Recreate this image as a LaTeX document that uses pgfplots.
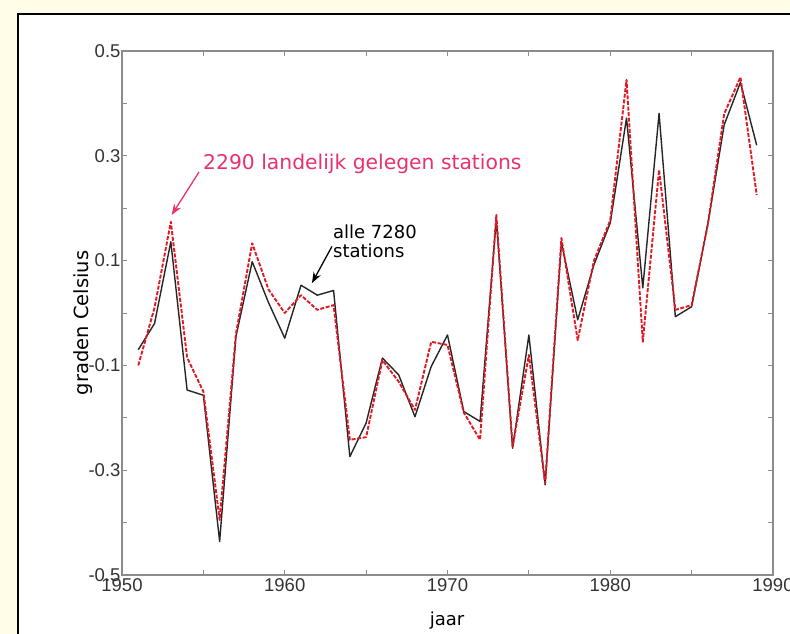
\documentclass[border=0pt]{standalone}
\usepackage{fontspec}
\usepackage{pgfplots}
\pgfplotsset{compat=1.18}
\usetikzlibrary{arrows.meta}
\setmainfont{Liberation Sans}
\newfontfamily\notefont{DejaVu Sans}

\definecolor{pagebg}{RGB}{255,252,232}
\definecolor{axisgray}{RGB}{140,140,140}
\definecolor{ruralred}{RGB}{225,25,35}
\definecolor{notepink}{RGB}{232,50,110}

% yearly temperature anomaly (degrees Celsius)
% all   : all 7280 stations
% rural : 2290 rural stations
\pgfplotstableread{
year   all     rural
1951  -0.070  -0.100
1952  -0.020   0.010
1953   0.136   0.174
1954  -0.147  -0.085
1955  -0.157  -0.150
1956  -0.436  -0.395
1957  -0.045  -0.040
1958   0.098   0.133
1959   0.020   0.045
1960  -0.048   0.000
1961   0.053   0.034
1962   0.034   0.006
1963   0.043   0.015
1964  -0.274  -0.242
1965  -0.210  -0.237
1966  -0.086  -0.090
1967  -0.118  -0.131
1968  -0.198  -0.185
1969  -0.102  -0.055
1970  -0.042  -0.061
1971  -0.188  -0.190
1972  -0.207  -0.242
1973   0.180   0.187
1974  -0.258  -0.255
1975  -0.042  -0.080
1976  -0.328  -0.325
1977   0.135   0.143
1978  -0.013  -0.052
1979   0.092   0.100
1980   0.172   0.177
1981   0.372   0.445
1982   0.048  -0.055
1983   0.381   0.273
1984  -0.007   0.006
1985   0.012   0.015
1986   0.170   0.170
1987   0.359   0.380
1988   0.440   0.450
1989   0.320   0.225
}\anomalies

\begin{document}
\begin{tikzpicture}
\useasboundingbox (0pt,0pt) rectangle (790pt,634pt);
\clip (0pt,0pt) rectangle (790pt,634pt);
\fill[pagebg] (0pt,0pt) rectangle (790pt,634pt);
\filldraw[fill=white,draw=black,line width=1.6pt] (18pt,-20pt) rectangle (820pt,620pt);

\begin{axis}[
  at={(122pt,59pt)}, anchor=south west,
  width=651pt, height=524pt, scale only axis,
  xmin=1950, xmax=1990, ymin=-0.5, ymax=0.5,
  xtick={1950,1960,1970,1980,1990},
  minor xtick={1955,1965,1975,1985},
  ytick={-0.5,-0.3,-0.1,0.1,0.3,0.5},
  minor ytick={-0.4,-0.2,0,0.2,0.4},
  tick align=inside,
  major tick length=5pt, minor tick length=5pt,
  tick style={axisgray, line width=0.9pt},
  axis line style={axisgray, line width=1.1pt},
  tick label style={font=\fontsize{18.5}{21}\selectfont, text=black!80},
  yticklabel style={xshift=2pt},
  /pgf/number format/assume math mode=true,
  /pgf/number format/fixed,
  /pgf/number format/precision=1,
  /pgf/number format/set thousands separator={},
  clip=false,
]
\addplot[black!85, line width=1.4pt, line join=round] table[x=year, y=all] {\anomalies};
\addplot[ruralred, line width=1.9pt, dash pattern=on 4pt off 1.6pt, line join=round] table[x=year, y=rural] {\anomalies};

\node[anchor=base west, inner sep=0, text=notepink, font=\notefont\fontsize{20.3}{24}\selectfont]
  at (axis cs:1954.98,0.273) {2290 landelijk gelegen stations};
\draw[notepink, line width=1.3pt, -{Stealth[length=11pt,width=8pt]}]
  (axis cs:1954.73,0.269) -- (axis cs:1953.05,0.187);

\node[anchor=base west, inner sep=0, font=\notefont\fontsize{18}{22}\selectfont]
  at (axis cs:1962.96,0.143) {alle 7280};
\node[anchor=base west, inner sep=0, font=\notefont\fontsize{18}{22}\selectfont]
  at (axis cs:1962.96,0.105) {stations};
\draw[black, line width=1.3pt, -{Stealth[length=11pt,width=8pt]}]
  (axis cs:1962.9,0.127) -- (axis cs:1961.67,0.057);
\end{axis}

\node[anchor=base, font=\notefont\fontsize{18}{22}\selectfont] at (447pt,8pt) {jaar};
\node[rotate=90, font=\notefont\fontsize{19.5}{22}\selectfont] at (83pt,311pt) {graden Celsius};
\end{tikzpicture}
\end{document}
